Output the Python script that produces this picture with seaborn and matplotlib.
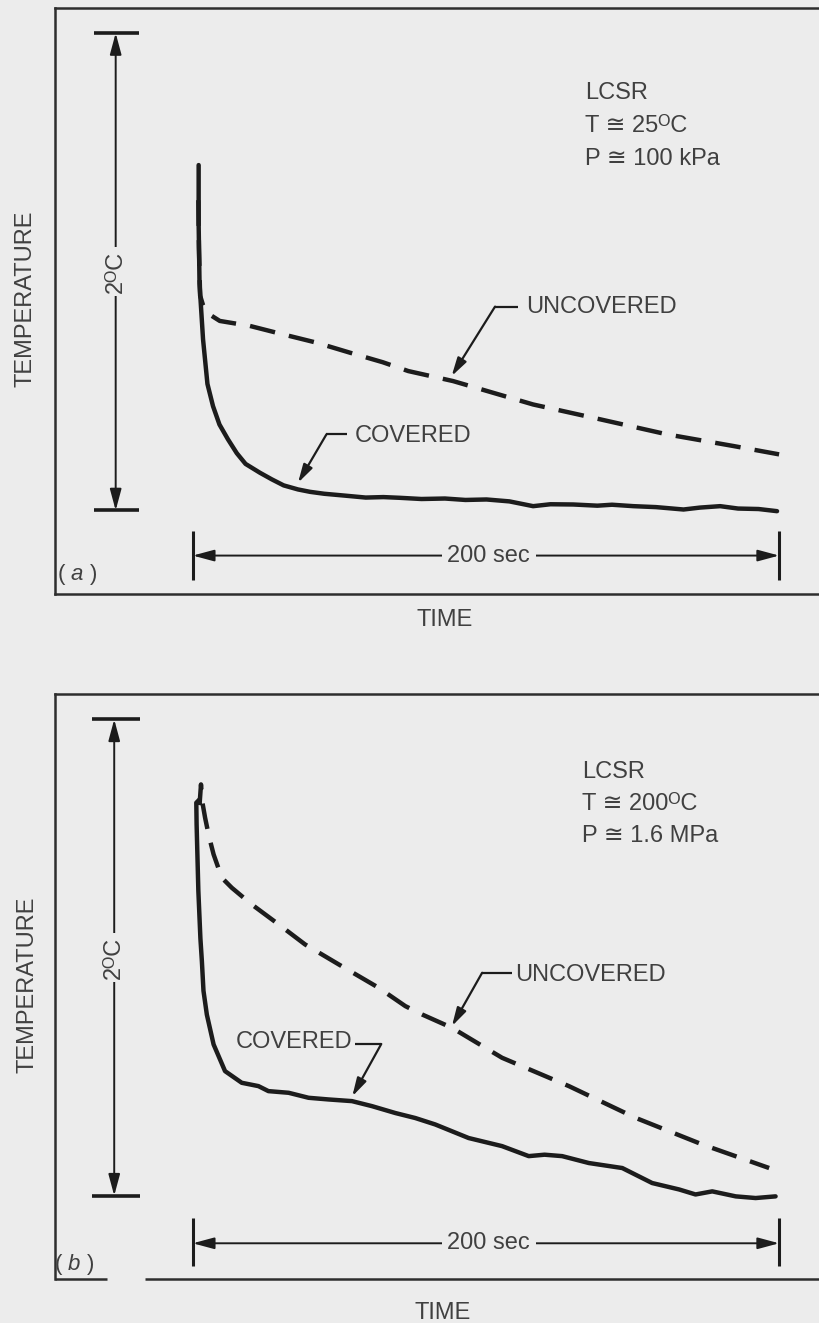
import numpy as np
import pandas as pd
import matplotlib
matplotlib.use("Agg")
import matplotlib.pyplot as plt
import seaborn as sns

# ---------------- data (time in s, temperature rise in deg C above final) -------------
a_cov_t = [2.0, 2.0, 2.3, 3.5, 5.0, 6.9, 9.1, 12.0, 15.0, 18.0, 22.9, 27.0, 31.0, 35.9, 40.0,
           44.8, 52.0, 59.0, 65.0, 70.6, 78.0, 86.0, 93.0, 100.2, 108.0, 116.1, 122.0, 129.8,
           138.0, 143.0, 150.3, 158.0, 167.4, 173.0, 179.9, 186.0, 193.0, 199.3]
a_cov_T = [1.447, 1.20, 0.95, 0.717, 0.53, 0.437, 0.36, 0.298, 0.24, 0.195, 0.158, 0.13, 0.105,
           0.088, 0.078, 0.070, 0.062, 0.054, 0.056, 0.053, 0.048, 0.050, 0.044, 0.046, 0.038,
           0.018, 0.026, 0.025, 0.020, 0.024, 0.018, 0.014, 0.004, 0.012, 0.018, 0.008, 0.006,
           -0.003]
a_unc_t = [1.9, 2.1, 2.5, 3.5, 4.7, 9.2, 19.5, 30.7, 42.2, 53.6, 64.8, 73.5, 88.8, 116.1,
           138.9, 161.7, 184.4, 200.0]
a_unc_T = [1.30, 1.10, 0.90, 0.86, 0.829, 0.794, 0.773, 0.738, 0.703, 0.661, 0.621, 0.584,
           0.542, 0.444, 0.382, 0.319, 0.270, 0.235]

b_cov_t = [2.4, 1.2, 1.3, 1.9, 2.6, 3.1, 3.65, 4.8, 7.1, 11.0, 16.7, 22.4, 25.8, 32.7, 39.5,
           46.3, 54.3, 61.1, 69.1, 75.9, 82.7, 94.1, 105.5, 114.6, 120.0, 126.0, 135.1, 146.5,
           156.7, 165.9, 171.5, 177.2, 185.2, 192.0, 198.8]
b_cov_T = [1.665, 1.650, 1.56, 1.28, 1.08, 0.985, 0.86, 0.76, 0.635, 0.523, 0.474, 0.460,
           0.439, 0.432, 0.411, 0.404, 0.397, 0.376, 0.347, 0.326, 0.299, 0.242, 0.208, 0.166,
           0.172, 0.166, 0.137, 0.116, 0.053, 0.026, 0.005, 0.018, -0.003, -0.010, -0.003]
b_unc_t = [2.3, 2.8, 3.3, 4.2, 5.5, 7.1, 9.9, 13.3, 20.1, 29.3, 38.3, 49.8, 63.4, 72.5, 78.2,
           88.4, 105.5, 128.3, 151.0, 173.8, 196.6]
b_unc_T = [1.64, 1.727, 1.65, 1.587, 1.51, 1.433, 1.335, 1.293, 1.223, 1.139, 1.055, 0.971,
           0.873, 0.796, 0.761, 0.705, 0.579, 0.460, 0.327, 0.215, 0.116]

panel_tags = ["a", "b"]
conditions = [["LCSR", "T \u2245 25\u1d3cC", "P \u2245 100 kPa"],
              ["LCSR", "T \u2245 200\u1d3cC", "P \u2245 1.6 MPa"]]
scale_label = "2\u1d3cC"
span_label = "200 sec"
series_names = ["COVERED", "UNCOVERED"]

# ---------------- style ----------------
BG = "#ececec"
INK = "#1c1c1c"
TXT = "#404040"
FRAME = "#2e2e2e"
sns.set_theme(style="white")
plt.rcParams["font.family"] = ["Liberation Sans", "DejaVu Sans"]
plt.rcParams["mathtext.fontset"] = "custom"
plt.rcParams["mathtext.it"] = "Liberation Sans:italic"
plt.rcParams["mathtext.rm"] = "Liberation Sans"
FS = 17

fig = plt.figure(figsize=(8.2, 13.23), dpi=100, facecolor=BG)
W, H = 820.0, 1323.0
# axes boxes in pixels: (left, top, bottom)
boxes = [(55, 8, 594), (55, 694.4, 1279)]

data = [(a_cov_t, a_cov_T, a_unc_t, a_unc_T), (b_cov_t, b_cov_T, b_unc_t, b_unc_T)]

# per-panel annotation geometry in data units
geo = [
    dict(vx=-26.3, tick=(-33.8, -18.4), hy=-0.189, htick=(-0.088, -0.293), templabel=(-57, 0.889),
         time=(86, -0.457), tag=(-39.5, -0.268), cond=(133.8, [1.748, 1.610, 1.472]),
         unc_text=(113.6, 0.851), unc_lead=[(110.9, 0.854), (103.1, 0.854)], unc_tip=(88.3, 0.563),
         cov_text=(55.3, 0.312, "left"), cov_lead=[(52.5, 0.319), (45.6, 0.319)], cov_tip=(35.9, 0.116)),
    dict(vx=-26.8, tick=(-34.5, -17.9), hy=-0.2, htick=(-0.095, -0.297), templabel=(-56.5, 0.884),
         time=(85.4, -0.493), tag=(-40.5, -0.288), cond=(132.7, [1.780, 1.645, 1.511]),
         unc_text=(110.0, 0.926), unc_lead=[(108.9, 0.936), (98.7, 0.936)], unc_tip=(88.4, 0.712),
         cov_text=(54.4, 0.646, "right"), cov_lead=[(55.3, 0.637), (64.3, 0.637)], cov_tip=(54.4, 0.417)),
]

for i, ((l, t, b), (ct, cT, ut, uT), g) in enumerate(zip(boxes, data, geo)):
    ax = fig.add_axes([l / W, 1 - b / H, (826 - l) / W, (b - t) / H])
    ax.set_facecolor(BG)
    ax.set_xlim(-47, 216)
    ax.set_ylim(-0.35, 2.105)
    ax.set_xticks([])
    ax.set_yticks([])
    for s in ["left", "top", "bottom"]:
        ax.spines[s].set_color(FRAME)
        ax.spines[s].set_linewidth(1.8)
    ax.spines["right"].set_visible(False)
    if i == 1:
        ax.spines["bottom"].set_visible(False)
        ax.plot([0, 0.0675], [0, 0], transform=ax.transAxes, color=FRAME, lw=1.8,
                clip_on=False, solid_capstyle="butt")
        ax.plot([0.117, 1.0], [0, 0], transform=ax.transAxes, color=FRAME, lw=1.8,
                clip_on=False, solid_capstyle="butt")

    df_c = pd.DataFrame({"t": ct, "T": cT})
    df_u = pd.DataFrame({"t": ut, "T": uT})
    sns.lineplot(data=df_c, x="t", y="T", ax=ax, color=INK, lw=3.2, sort=False,
                 estimator=None)
    sns.lineplot(data=df_u, x="t", y="T", ax=ax, color=INK, lw=3.2, sort=False,
                 estimator=None)
    ln = ax.lines[-1]
    ln.set_dashes([5.8, 3.2])
    ln.set_dash_capstyle("butt")
    ax.set_xlabel("")
    ax.set_ylabel("")

    # vertical 2 C scale bar
    vx = g["vx"]
    ax.annotate("", xy=(vx, 2.0), xytext=(vx, 0.0),
                arrowprops=dict(arrowstyle="<|-|>,head_length=1.3,head_width=0.35",
                                color=INK, lw=1.4, shrinkA=0, shrinkB=0, mutation_scale=10))
    for yy in (0.0, 2.0):
        ax.plot(list(g["tick"]), [yy, yy], color=INK, lw=2.6, solid_capstyle="butt")
    ax.text(vx, 1.0, scale_label, rotation=90, ha="center", va="center", fontsize=FS,
            color=TXT, zorder=6,
            bbox=dict(boxstyle="square,pad=0.15", fc=BG, ec="none"))

    # horizontal 200 s scale bar
    hy = g["hy"]
    ax.annotate("", xy=(0.0, hy), xytext=(200.0, hy),
                arrowprops=dict(arrowstyle="<|-|>,head_length=1.3,head_width=0.35",
                                color=INK, lw=1.4, shrinkA=0, shrinkB=0, mutation_scale=10))
    for xx in (0.0, 200.0):
        ax.plot([xx, xx], list(g["htick"]), color=INK, lw=2.2, solid_capstyle="butt")
    ax.text(101, hy, span_label, ha="center", va="center", fontsize=FS, color=TXT, zorder=6,
            bbox=dict(boxstyle="square,pad=0.25", fc=BG, ec="none"))

    # axis words
    ax.text(*g["templabel"], "TEMPERATURE", rotation=90, ha="center", va="center",
            fontsize=FS, color=TXT, clip_on=False)
    ax.text(*g["time"], "TIME", ha="center", va="center", fontsize=FS, color=TXT, clip_on=False)
    ax.text(*g["tag"], r"( $\mathit{%s}$ )" % panel_tags[i], ha="center", va="center",
            fontsize=FS - 1, color=TXT)

    # conditions
    cx, cys = g["cond"]
    for line_txt, cy in zip(conditions[i], cys):
        ax.text(cx, cy, line_txt, ha="left", va="center", fontsize=FS, color=TXT)

    # series labels with leaders
    ax.text(g["unc_text"][0], g["unc_text"][1], series_names[1], ha="left", va="center",
            fontsize=FS, color=TXT)
    (x1, y1), (x2, y2) = g["unc_lead"]
    ax.plot([x1, x2], [y1, y2], color=INK, lw=1.6, solid_capstyle="butt")
    ax.annotate("", xy=g["unc_tip"], xytext=(x2, y2),
                arrowprops=dict(arrowstyle="-|>,head_length=1.1,head_width=0.3", color=INK,
                                lw=1.6, shrinkA=0, shrinkB=0, mutation_scale=10))
    cxx, cyy, cha = g["cov_text"]
    ax.text(cxx, cyy, series_names[0], ha=cha, va="center", fontsize=FS, color=TXT)
    (x1, y1), (x2, y2) = g["cov_lead"]
    ax.plot([x1, x2], [y1, y2], color=INK, lw=1.6, solid_capstyle="butt")
    ax.annotate("", xy=g["cov_tip"], xytext=(x2, y2),
                arrowprops=dict(arrowstyle="-|>,head_length=1.1,head_width=0.3", color=INK,
                                lw=1.6, shrinkA=0, shrinkB=0, mutation_scale=10))

fig.savefig("out.png", dpi=100, facecolor=BG)
